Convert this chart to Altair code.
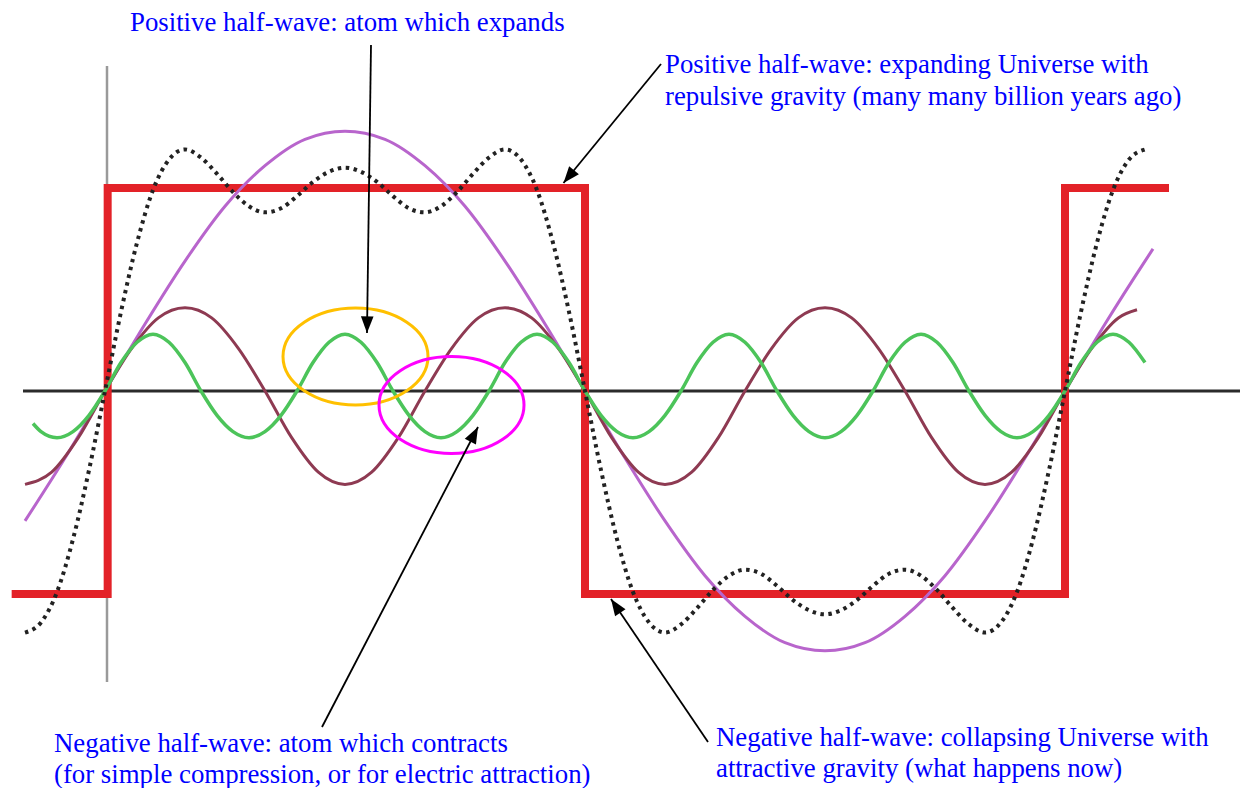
import math
import altair as alt
import pandas as pd

# ---------------- values ----------------
# x: phase in degrees (0 / 180 / 360 = zero crossings), y: amplitude in square-wave units
SQUARE_DEG = [-35, 1, 1, 180, 180, 360, 360, 399]
SQUARE_VAL = [-1.0, -1.0, 1.0, 1.0, -1.0, -1.0, 1.0, 1.0]

PURPLE_DEG = [-30, -15, 0, 15, 30, 45, 60, 75, 90, 105, 120, 135, 150, 165, 180,
              195, 210, 225, 240, 255, 270, 285, 300, 315, 330, 345, 360, 375, 390, 393]
PURPLE_VAL = [-0.64, -0.33, 0, 0.33, 0.64, 0.91, 1.11, 1.24, 1.28, 1.24, 1.11, 0.91, 0.64, 0.33, 0,
              -0.33, -0.64, -0.91, -1.11, -1.24, -1.28, -1.24, -1.11, -0.91, -0.64, -0.33, 0, 0.33, 0.64, 0.70]

BROWN_DEG = [-30, -20, -10, 0, 10, 20, 30, 40, 50, 60, 70, 80, 90, 100, 110, 120,
             130, 140, 150, 160, 170, 180, 190, 200, 210, 220, 230, 240, 250, 260,
             270, 280, 290, 300, 310, 320, 330, 340, 350, 360, 370, 380, 387]
BROWN_VAL = [-0.46, -0.40, -0.23, 0, 0.21, 0.36, 0.41, 0.36, 0.21, 0, -0.23, -0.40, -0.46, -0.40, -0.23, 0,
             0.21, 0.36, 0.41, 0.36, 0.21, 0, -0.23, -0.40, -0.46, -0.40, -0.23, 0, 0.21, 0.36,
             0.41, 0.36, 0.21, 0, -0.23, -0.40, -0.46, -0.40, -0.23, 0, 0.21, 0.36, 0.40]

GREEN_DEG = [-27, -24, -18, -12, -6,
             0, 6, 12, 18, 24, 30, 36, 42, 48, 54, 60, 66,
             72, 78, 84, 90, 96, 102, 108, 114, 120, 126, 132, 138,
             144, 150, 156, 162, 168, 174, 180, 186, 192, 198, 204, 210,
             216, 222, 228, 234, 240, 246, 252, 258, 264, 270, 276, 282,
             288, 294, 300, 306, 312, 318, 324, 330, 336, 342, 348, 354,
             360, 366, 372, 378, 384, 390]
GREEN_VAL = [-0.16, -0.20, -0.23, -0.20, -0.12,
             0, 0.14, 0.24, 0.28, 0.24, 0.14, 0, -0.12, -0.20, -0.23, -0.20, -0.12,
             0, 0.14, 0.24, 0.28, 0.24, 0.14, 0, -0.12, -0.20, -0.23, -0.20, -0.12,
             0, 0.14, 0.24, 0.28, 0.24, 0.14, 0, -0.12, -0.20, -0.23, -0.20, -0.12,
             0, 0.14, 0.24, 0.28, 0.24, 0.14, 0, -0.12, -0.20, -0.23, -0.20, -0.12,
             0, 0.14, 0.24, 0.28, 0.24, 0.14, 0, -0.12, -0.20, -0.23, -0.20, -0.12,
             0, 0.14, 0.24, 0.28, 0.24, 0.14]

DOTTED_DEG = [-30, -24, -18, -12, -6, 0, 6, 12, 18, 24, 30, 36, 42, 48, 54, 60, 66, 72, 78, 84,
              90, 96, 102, 108, 114, 120, 126, 132, 138, 144, 150, 156, 162, 168, 174, 180,
              186, 192, 198, 204, 210, 216, 222, 228, 234, 240, 246, 252, 258, 264, 270,
              276, 282, 288, 294, 300, 306, 312, 318, 324, 330, 336, 342, 348, 354, 360,
              366, 372, 378, 384, 390]
DOTTED_VAL = [-1.19, -1.14, -0.99, -0.73, -0.39, 0, 0.39, 0.73, 0.99, 1.14, 1.19, 1.15, 1.07, 0.98, 0.91, 0.88, 0.90, 0.96, 1.03, 1.08,
              1.10, 1.08, 1.03, 0.96, 0.90, 0.88, 0.91, 0.98, 1.07, 1.15, 1.19, 1.14, 0.99, 0.73, 0.39, 0,
              -0.39, -0.73, -0.99, -1.14, -1.19, -1.15, -1.07, -0.98, -0.91, -0.88, -0.90, -0.96, -1.03, -1.08, -1.10,
              -1.08, -1.03, -0.96, -0.90, -0.88, -0.91, -0.98, -1.07, -1.15, -1.19, -1.14, -0.99, -0.73, -0.39, 0,
              0.39, 0.73, 0.99, 1.14, 1.19]

LABEL_TEXT = [
    "Positive half-wave: atom which expands",
    "Positive half-wave: expanding Universe with",
    "repulsive gravity (many many billion years ago)",
    "Negative half-wave: atom which contracts",
    "(for simple compression, or for electric attraction)",
    "Negative half-wave: collapsing Universe with",
    "attractive gravity (what happens now)",
]

# ---------------- layout (page pixels) ----------------
W, H, MARGIN = 1232, 780, 8
X0, PXDEG = 105.0, 480.0 / 180.0      # pixel of phase 0, pixels per degree
Y0, PXUNIT = 391.0, 203.0             # pixel of the axis, pixels per unit


def to_deg(px):
    return (px - X0) / PXDEG


def to_v(py):
    return (Y0 - py) / PXUNIT


XS = alt.Scale(domain=[to_deg(MARGIN), to_deg(MARGIN + W)], nice=False, zero=False)
YS = alt.Scale(domain=[to_v(MARGIN + H), to_v(MARGIN)], nice=False, zero=False)
X = alt.X("deg:Q", scale=XS, axis=None)
Y = alt.Y("v:Q", scale=YS, axis=None)

LABEL_POS = [(130, 31), (665, 73), (665, 105), (54, 752), (54, 783), (716, 746), (716, 777)]
ARROWS = [(371, 45, 367, 333), (661, 64, 563.5, 183), (322, 727, 478, 427), (708, 742, 611, 599)]
ELLIPSES = [(355.5, 356.5, "#FFC000"), (451.5, 405.0, "#FF00FF")]
ELLIPSE_RX = 72.5
ELLIPSE_PATH = ("M1,0 C1,0.3695 0.5523,0.669 0,0.669 C-0.5523,0.669 -1,0.3695 -1,0 "
                "C-1,-0.3695 -0.5523,-0.669 0,-0.669 C0.5523,-0.669 1,-0.3695 1,0 Z")
HEAD_PATH = "M0,0 L-0.38,1 L0.38,1 Z"

# ---------------- data tables ----------------
df_sq = pd.DataFrame({"deg": SQUARE_DEG, "v": SQUARE_VAL, "i": list(range(len(SQUARE_DEG)))})
df_pu = pd.DataFrame({"deg": PURPLE_DEG, "v": PURPLE_VAL})
df_br = pd.DataFrame({"deg": BROWN_DEG, "v": BROWN_VAL})
df_gr = pd.DataFrame({"deg": GREEN_DEG, "v": GREEN_VAL})
df_do = pd.DataFrame({"deg": DOTTED_DEG, "v": DOTTED_VAL})

df_hax = pd.DataFrame({"deg": [to_deg(23)], "deg2": [to_deg(MARGIN + W)], "v": [0.0]})
df_vax = pd.DataFrame({"deg": [to_deg(107)], "v": [to_v(66)], "v2": [to_v(682)]})

df_txt = pd.DataFrame({
    "deg": [to_deg(p[0]) for p in LABEL_POS],
    "v": [to_v(p[1]) for p in LABEL_POS],
    "t": LABEL_TEXT,
})
df_arr = pd.DataFrame({
    "deg": [to_deg(a[0]) for a in ARROWS],
    "v": [to_v(a[1]) for a in ARROWS],
    "deg2": [to_deg(a[2]) for a in ARROWS],
    "v2": [to_v(a[3]) for a in ARROWS],
})
df_head = pd.DataFrame({
    "deg": [to_deg(a[2]) for a in ARROWS],
    "v": [to_v(a[3]) for a in ARROWS],
    "ang": [(math.degrees(math.atan2(a[2] - a[0], -(a[3] - a[1]))) + 360) % 360 for a in ARROWS],
})
df_ell = pd.DataFrame({
    "deg": [to_deg(e[0]) for e in ELLIPSES],
    "v": [to_v(e[1]) for e in ELLIPSES],
    "col": [e[2] for e in ELLIPSES],
})

# ---------------- layers ----------------
hax = alt.Chart(df_hax).mark_rule(color="#2b2b2b", strokeWidth=3).encode(
    x=X, x2="deg2:Q", y=Y)
vax = alt.Chart(df_vax).mark_rule(color="#9a9a9a", strokeWidth=2.5).encode(
    x=X, y=Y, y2="v2:Q")
red = alt.Chart(df_sq).mark_line(color="#E32228", strokeWidth=8, strokeJoin="miter").encode(
    x=X, y=Y, order="i:Q")
purple = alt.Chart(df_pu).mark_line(color="#B865CC", strokeWidth=3, interpolate="monotone").encode(x=X, y=Y)
brown = alt.Chart(df_br).mark_line(color="#8E3A52", strokeWidth=3, interpolate="monotone").encode(x=X, y=Y)
green = alt.Chart(df_gr).mark_line(color="#4CC45A", strokeWidth=3.5, interpolate="monotone").encode(x=X, y=Y)
dotted = alt.Chart(df_do).mark_line(color="#222222", strokeWidth=4, strokeDash=[3.5, 4.5],
                                    interpolate="monotone").encode(x=X, y=Y)
ell = alt.Chart(df_ell).mark_point(shape=ELLIPSE_PATH, filled=False, size=(2 * ELLIPSE_RX) ** 2,
                                   strokeWidth=3, opacity=1).encode(
    x=X, y=Y, stroke=alt.Stroke("col:N", scale=None))
arr = alt.Chart(df_arr).mark_rule(color="black", strokeWidth=1.8).encode(
    x=X, y=Y, x2="deg2:Q", y2="v2:Q")
heads = alt.Chart(df_head).mark_point(shape=HEAD_PATH, filled=True, size=1100, color="black",
                                      opacity=1, strokeWidth=0).encode(
    x=X, y=Y, angle=alt.Angle("ang:Q", scale=None))
txt = alt.Chart(df_txt).mark_text(align="left", baseline="alphabetic", font="Liberation Serif",
                                  fontSize=26.8, color="#0000FF").encode(x=X, y=Y, text="t:N")

chart = alt.layer(hax, vax, red, purple, brown, green, dotted, ell, arr, heads, txt).properties(
    width=W, height=H, padding=0, autosize=alt.AutoSizeParams(type="none"), background="white"
).configure_view(stroke=None)

chart.save("out.html", embed_options={"renderer": "svg", "actions": False})
